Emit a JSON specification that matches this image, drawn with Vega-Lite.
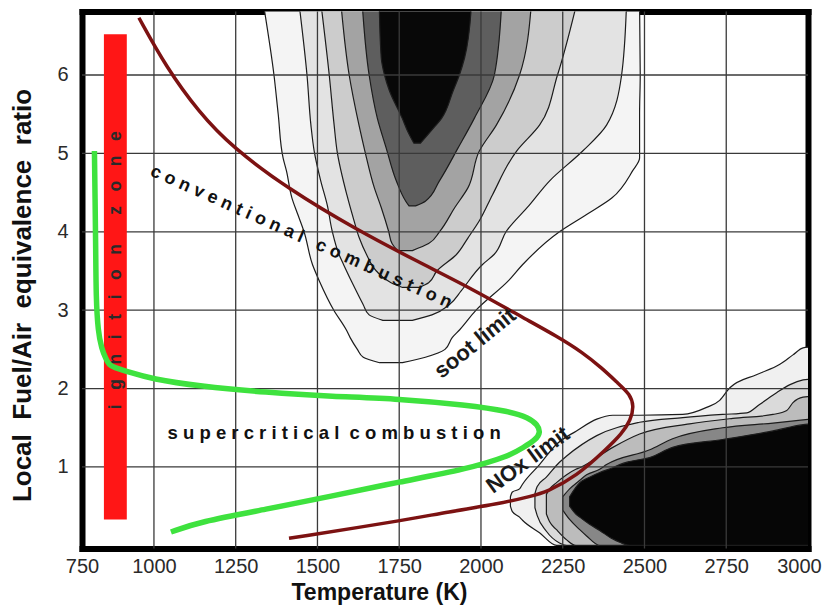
{
  "$schema": "https://vega.github.io/schema/vega-lite/v6.json",
  "width": 726,
  "height": 537,
  "autosize": {"type": "none"},
  "padding": {"left": 82, "top": 11.5, "right": 16, "bottom": 57.5},
  "background": "white",
  "config": {
    "view": {"stroke": null},
    "axis": {
      "domainColor": "#000000",
      "domainWidth": 6,
      "domainCap": "square",
      "grid": false,
      "ticks": false,
      "tickSize": 0,
      "labelFont": "Liberation Sans",
      "labelFontSize": 20,
      "labelColor": "#2a2a2a",
      "titleFont": "Liberation Sans",
      "titleFontWeight": "bold",
      "titleColor": "#111111",
      "zindex": 1
    },
    "text": {"font": "Liberation Sans"}
  },
  "resolve": {"axis": {"x": "independent", "y": "independent"}},
  "datasets": {
    "soot": [
      {"lev": "L1", "phi": 2.33, "T": 1690, "T2": 1760},
      {"lev": "L1", "phi": 2.40, "T": 1640, "T2": 1830},
      {"lev": "L1", "phi": 2.50, "T": 1622, "T2": 1890},
      {"lev": "L1", "phi": 2.65, "T": 1600, "T2": 1912},
      {"lev": "L1", "phi": 2.75, "T": 1588, "T2": 1935},
      {"lev": "L1", "phi": 3.00, "T": 1550, "T2": 1985},
      {"lev": "L1", "phi": 3.38, "T": 1505, "T2": 2085},
      {"lev": "L1", "phi": 3.58, "T": 1485, "T2": 2127},
      {"lev": "L1", "phi": 4.00, "T": 1459, "T2": 2240},
      {"lev": "L1", "phi": 4.22, "T": 1440, "T2": 2323},
      {"lev": "L1", "phi": 4.43, "T": 1422, "T2": 2400},
      {"lev": "L1", "phi": 4.78, "T": 1405, "T2": 2464},
      {"lev": "L1", "phi": 4.94, "T": 1395, "T2": 2485},
      {"lev": "L1", "phi": 5.50, "T": 1380, "T2": 2485},
      {"lev": "L1", "phi": 6.00, "T": 1367, "T2": 2487},
      {"lev": "L1", "phi": 6.90, "T": 1335, "T2": 2485},
      {"lev": "L2", "phi": 2.87, "T": 1700, "T2": 1790},
      {"lev": "L2", "phi": 2.94, "T": 1658, "T2": 1850},
      {"lev": "L2", "phi": 3.07, "T": 1640, "T2": 1903},
      {"lev": "L2", "phi": 3.25, "T": 1618, "T2": 1940},
      {"lev": "L2", "phi": 3.58, "T": 1580, "T2": 2004},
      {"lev": "L2", "phi": 3.71, "T": 1566, "T2": 2040},
      {"lev": "L2", "phi": 4.01, "T": 1545, "T2": 2078},
      {"lev": "L2", "phi": 4.34, "T": 1530, "T2": 2148},
      {"lev": "L2", "phi": 4.65, "T": 1510, "T2": 2210},
      {"lev": "L2", "phi": 5.03, "T": 1490, "T2": 2311},
      {"lev": "L2", "phi": 5.36, "T": 1480, "T2": 2384},
      {"lev": "L2", "phi": 6.00, "T": 1468, "T2": 2430},
      {"lev": "L2", "phi": 6.90, "T": 1444, "T2": 2445},
      {"lev": "L3", "phi": 3.29, "T": 1760, "T2": 1810},
      {"lev": "L3", "phi": 3.35, "T": 1725, "T2": 1840},
      {"lev": "L3", "phi": 3.50, "T": 1680, "T2": 1865},
      {"lev": "L3", "phi": 3.71, "T": 1650, "T2": 1925},
      {"lev": "L3", "phi": 3.92, "T": 1628, "T2": 1960},
      {"lev": "L3", "phi": 4.14, "T": 1612, "T2": 1995},
      {"lev": "L3", "phi": 4.47, "T": 1590, "T2": 2035},
      {"lev": "L3", "phi": 5.03, "T": 1560, "T2": 2109},
      {"lev": "L3", "phi": 5.36, "T": 1551, "T2": 2179},
      {"lev": "L3", "phi": 6.00, "T": 1536, "T2": 2234},
      {"lev": "L3", "phi": 6.90, "T": 1511, "T2": 2292},
      {"lev": "L4", "phi": 3.76, "T": 1745, "T2": 1790},
      {"lev": "L4", "phi": 3.85, "T": 1728, "T2": 1840},
      {"lev": "L4", "phi": 4.00, "T": 1718, "T2": 1873},
      {"lev": "L4", "phi": 4.31, "T": 1695, "T2": 1920},
      {"lev": "L4", "phi": 4.56, "T": 1674, "T2": 1960},
      {"lev": "L4", "phi": 5.03, "T": 1645, "T2": 1995},
      {"lev": "L4", "phi": 5.36, "T": 1627, "T2": 2047},
      {"lev": "L4", "phi": 6.00, "T": 1597, "T2": 2118},
      {"lev": "L4", "phi": 6.90, "T": 1572, "T2": 2154},
      {"lev": "L5", "phi": 4.33, "T": 1780, "T2": 1800},
      {"lev": "L5", "phi": 4.39, "T": 1770, "T2": 1830},
      {"lev": "L5", "phi": 4.65, "T": 1741, "T2": 1873},
      {"lev": "L5", "phi": 5.07, "T": 1710, "T2": 1930},
      {"lev": "L5", "phi": 5.45, "T": 1683, "T2": 1980},
      {"lev": "L5", "phi": 6.00, "T": 1658, "T2": 2041},
      {"lev": "L5", "phi": 6.90, "T": 1637, "T2": 2063},
      {"lev": "L6", "phi": 5.13, "T": 1795, "T2": 1815},
      {"lev": "L6", "phi": 5.29, "T": 1775, "T2": 1848},
      {"lev": "L6", "phi": 5.45, "T": 1759, "T2": 1880},
      {"lev": "L6", "phi": 5.80, "T": 1720, "T2": 1915},
      {"lev": "L6", "phi": 6.00, "T": 1705, "T2": 1934},
      {"lev": "L6", "phi": 6.22, "T": 1695, "T2": 1950},
      {"lev": "L6", "phi": 6.90, "T": 1689, "T2": 1971}
    ],
    "nox": [
      {"lev": "N1", "T": 2090, "phi": 0.50, "phi2": 0.62},
      {"lev": "N1", "T": 2096, "phi": 0.43, "phi2": 0.68},
      {"lev": "N1", "T": 2118, "phi": 0.36, "phi2": 0.72},
      {"lev": "N1", "T": 2127, "phi": 0.32, "phi2": 0.78},
      {"lev": "N1", "T": 2179, "phi": 0.16, "phi2": 1.03},
      {"lev": "N1", "T": 2231, "phi": 0, "phi2": 1.29},
      {"lev": "N1", "T": 2292, "phi": 0, "phi2": 1.46},
      {"lev": "N1", "T": 2354, "phi": 0, "phi2": 1.61},
      {"lev": "N1", "T": 2403, "phi": 0, "phi2": 1.66},
      {"lev": "N1", "T": 2485, "phi": 0, "phi2": 1.66},
      {"lev": "N1", "T": 2617, "phi": 0, "phi2": 1.67},
      {"lev": "N1", "T": 2690, "phi": 0, "phi2": 1.76},
      {"lev": "N1", "T": 2730, "phi": 0, "phi2": 1.85},
      {"lev": "N1", "T": 2761, "phi": 0, "phi2": 2.01},
      {"lev": "N1", "T": 2844, "phi": 0, "phi2": 2.18},
      {"lev": "N1", "T": 2914, "phi": 0, "phi2": 2.31},
      {"lev": "N1", "T": 2954, "phi": 0, "phi2": 2.43},
      {"lev": "N1", "T": 2985, "phi": 0, "phi2": 2.52},
      {"lev": "N1", "T": 3010, "phi": 0, "phi2": 2.53},
      {"lev": "N2", "T": 2165, "phi": 0.48, "phi2": 0.66},
      {"lev": "N2", "T": 2172, "phi": 0.38, "phi2": 0.75},
      {"lev": "N2", "T": 2200, "phi": 0.18, "phi2": 0.87},
      {"lev": "N2", "T": 2240, "phi": 0.03, "phi2": 1.06},
      {"lev": "N2", "T": 2262, "phi": 0, "phi2": 1.14},
      {"lev": "N2", "T": 2354, "phi": 0, "phi2": 1.40},
      {"lev": "N2", "T": 2485, "phi": 0, "phi2": 1.57},
      {"lev": "N2", "T": 2617, "phi": 0, "phi2": 1.63},
      {"lev": "N2", "T": 2739, "phi": 0, "phi2": 1.67},
      {"lev": "N2", "T": 2813, "phi": 0, "phi2": 1.69},
      {"lev": "N2", "T": 2853, "phi": 0, "phi2": 1.80},
      {"lev": "N2", "T": 2905, "phi": 0, "phi2": 1.95},
      {"lev": "N2", "T": 2945, "phi": 0, "phi2": 2.05},
      {"lev": "N2", "T": 2985, "phi": 0, "phi2": 2.11},
      {"lev": "N2", "T": 3010, "phi": 0, "phi2": 2.12},
      {"lev": "N3", "T": 2200, "phi": 0.40, "phi2": 0.65},
      {"lev": "N3", "T": 2210, "phi": 0.30, "phi2": 0.72},
      {"lev": "N3", "T": 2231, "phi": 0.20, "phi2": 0.80},
      {"lev": "N3", "T": 2262, "phi": 0.07, "phi2": 0.90},
      {"lev": "N3", "T": 2290, "phi": 0, "phi2": 0.97},
      {"lev": "N3", "T": 2302, "phi": 0, "phi2": 0.99},
      {"lev": "N3", "T": 2403, "phi": 0, "phi2": 1.25},
      {"lev": "N3", "T": 2485, "phi": 0, "phi2": 1.42},
      {"lev": "N3", "T": 2638, "phi": 0, "phi2": 1.55},
      {"lev": "N3", "T": 2770, "phi": 0, "phi2": 1.62},
      {"lev": "N3", "T": 2893, "phi": 0, "phi2": 1.67},
      {"lev": "N3", "T": 2935, "phi": 0, "phi2": 1.72},
      {"lev": "N3", "T": 2954, "phi": 0, "phi2": 1.82},
      {"lev": "N3", "T": 2985, "phi": 0, "phi2": 1.89},
      {"lev": "N3", "T": 3010, "phi": 0, "phi2": 1.90},
      {"lev": "N4", "T": 2250, "phi": 0.45, "phi2": 0.62},
      {"lev": "N4", "T": 2271, "phi": 0.33, "phi2": 0.72},
      {"lev": "N4", "T": 2302, "phi": 0.20, "phi2": 0.83},
      {"lev": "N4", "T": 2323, "phi": 0.12, "phi2": 0.90},
      {"lev": "N4", "T": 2363, "phi": 0, "phi2": 0.97},
      {"lev": "N4", "T": 2384, "phi": 0, "phi2": 1.03},
      {"lev": "N4", "T": 2516, "phi": 0, "phi2": 1.22},
      {"lev": "N4", "T": 2586, "phi": 0, "phi2": 1.36},
      {"lev": "N4", "T": 2739, "phi": 0, "phi2": 1.50},
      {"lev": "N4", "T": 2893, "phi": 0, "phi2": 1.56},
      {"lev": "N4", "T": 2985, "phi": 0, "phi2": 1.60},
      {"lev": "N4", "T": 3010, "phi": 0, "phi2": 1.61},
      {"lev": "N5", "T": 2271, "phi": 0.50, "phi2": 0.62},
      {"lev": "N5", "T": 2290, "phi": 0.40, "phi2": 0.74},
      {"lev": "N5", "T": 2302, "phi": 0.36, "phi2": 0.80},
      {"lev": "N5", "T": 2332, "phi": 0.27, "phi2": 0.87},
      {"lev": "N5", "T": 2363, "phi": 0.19, "phi2": 0.93},
      {"lev": "N5", "T": 2403, "phi": 0.08, "phi2": 0.99},
      {"lev": "N5", "T": 2424, "phi": 0.04, "phi2": 1.03},
      {"lev": "N5", "T": 2455, "phi": 0, "phi2": 1.07},
      {"lev": "N5", "T": 2516, "phi": 0, "phi2": 1.12},
      {"lev": "N5", "T": 2586, "phi": 0, "phi2": 1.25},
      {"lev": "N5", "T": 2739, "phi": 0, "phi2": 1.35},
      {"lev": "N5", "T": 2893, "phi": 0, "phi2": 1.46},
      {"lev": "N5", "T": 2985, "phi": 0, "phi2": 1.54},
      {"lev": "N5", "T": 3010, "phi": 0, "phi2": 1.55}
    ],
    "green": [
      {"seq": 1, "T": 818, "phi": 5.03},
      {"seq": 2, "T": 820, "phi": 4.42},
      {"seq": 3, "T": 822, "phi": 3.79},
      {"seq": 4, "T": 823, "phi": 3.15},
      {"seq": 5, "T": 829, "phi": 2.73},
      {"seq": 6, "T": 840, "phi": 2.51},
      {"seq": 7, "T": 853, "phi": 2.38},
      {"seq": 8, "T": 863, "phi": 2.30},
      {"seq": 9, "T": 878, "phi": 2.27},
      {"seq": 10, "T": 915, "phi": 2.22},
      {"seq": 11, "T": 995, "phi": 2.12},
      {"seq": 12, "T": 1138, "phi": 2.03},
      {"seq": 13, "T": 1343, "phi": 1.95},
      {"seq": 14, "T": 1545, "phi": 1.90},
      {"seq": 15, "T": 1750, "phi": 1.87},
      {"seq": 16, "T": 1955, "phi": 1.79},
      {"seq": 17, "T": 2087, "phi": 1.71},
      {"seq": 18, "T": 2145, "phi": 1.63},
      {"seq": 19, "T": 2173, "phi": 1.54},
      {"seq": 20, "T": 2182, "phi": 1.44},
      {"seq": 21, "T": 2168, "phi": 1.35},
      {"seq": 22, "T": 2130, "phi": 1.25},
      {"seq": 23, "T": 2087, "phi": 1.14},
      {"seq": 24, "T": 1955, "phi": 0.97},
      {"seq": 25, "T": 1750, "phi": 0.81},
      {"seq": 26, "T": 1545, "phi": 0.63},
      {"seq": 27, "T": 1343, "phi": 0.46},
      {"seq": 28, "T": 1138, "phi": 0.30},
      {"seq": 29, "T": 1052, "phi": 0.17}
    ],
    "red": [
      {"seq": 1, "T": 954, "phi": 6.73},
      {"seq": 2, "T": 1036, "phi": 6.11},
      {"seq": 3, "T": 1138, "phi": 5.52},
      {"seq": 4, "T": 1239, "phi": 5.08},
      {"seq": 5, "T": 1413, "phi": 4.54},
      {"seq": 6, "T": 1618, "phi": 4.03},
      {"seq": 7, "T": 1811, "phi": 3.61},
      {"seq": 8, "T": 1974, "phi": 3.27},
      {"seq": 9, "T": 2139, "phi": 2.88},
      {"seq": 10, "T": 2231, "phi": 2.67},
      {"seq": 11, "T": 2311, "phi": 2.46},
      {"seq": 12, "T": 2370, "phi": 2.26},
      {"seq": 13, "T": 2421, "phi": 2.06},
      {"seq": 14, "T": 2455, "phi": 1.93},
      {"seq": 15, "T": 2468, "phi": 1.78},
      {"seq": 16, "T": 2458, "phi": 1.60},
      {"seq": 17, "T": 2430, "phi": 1.42},
      {"seq": 18, "T": 2384, "phi": 1.23},
      {"seq": 19, "T": 2292, "phi": 0.88},
      {"seq": 20, "T": 2200, "phi": 0.68},
      {"seq": 21, "T": 2157, "phi": 0.63},
      {"seq": 22, "T": 2056, "phi": 0.53},
      {"seq": 23, "T": 1903, "phi": 0.43},
      {"seq": 24, "T": 1750, "phi": 0.31},
      {"seq": 25, "T": 1413, "phi": 0.09}
    ]
  },
  "layer": [
    {
      "data": {"name": "soot"},
      "mark": {"type": "area", "orient": "horizontal", "interpolate": "monotone", "clip": true, "stroke": "#1c1c1c", "strokeWidth": 1.2},
      "encoding": {
        "y": {"field": "phi", "type": "quantitative", "scale": {"domain": [-0.04, 6.81], "nice": false, "zero": false},
          "axis": {"orient": "left", "values": [1, 2, 3, 4, 5, 6], "labelPadding": 14, "title": "Local\u00a0\u00a0Fuel/Air\u00a0\u00a0equivalence\u00a0\u00a0ratio", "titleFontSize": 26, "titleAngle": 270, "titleX": -60, "titleY": 283.5, "titleAlign": "center", "titleBaseline": "middle"}},
        "x": {"field": "T", "type": "quantitative", "stack": null, "scale": {"domain": [780, 3000], "nice": false, "zero": false},
          "axis": {"orient": "bottom", "values": [780, 1000, 1250, 1500, 1750, 2000, 2250, 2500, 2750, 3000], "format": "d", "labelExpr": "datum.value < 900 ? '750' : datum.label", "labelFlush": false, "labelOverlap": false, "labelPadding": 8, "labelOffset": {"condition": {"test": "datum.value == 3000", "value": -9}, "value": 0}, "title": "Temperature (K)", "titleFontSize": 23, "titleX": 297, "titleY": 51, "titleAlign": "center", "titleBaseline": "alphabetic"}},
        "x2": {"field": "T2"},
        "color": {"field": "lev", "type": "nominal", "legend": null,
          "scale": {"domain": ["L1", "L2", "L3", "L4", "L5", "L6", "N1", "N2", "N3", "N4", "N5"], "range": ["#f4f4f4", "#e3e3e3", "#cccccc", "#a3a3a3", "#5e5e5e", "#080808", "#f0f0f0", "#dadada", "#bcbcbc", "#878787", "#060606"]}}
      }
    },
    {
      "data": {"name": "nox"},
      "mark": {"type": "area", "orient": "vertical", "interpolate": "monotone", "clip": true, "stroke": "#1c1c1c", "strokeWidth": 1.2},
      "encoding": {
        "x": {"field": "T", "type": "quantitative", "scale": {"domain": [780, 3000], "nice": false, "zero": false},
          "axis": {"orient": "top", "labels": false, "title": null, "values": [3000]}},
        "y": {"field": "phi", "type": "quantitative", "stack": null, "scale": {"domain": [-0.04, 6.81], "nice": false, "zero": false},
          "axis": {"orient": "right", "labels": false, "title": null, "values": [1]}},
        "y2": {"field": "phi2"},
        "color": {"field": "lev", "type": "nominal", "legend": null,
          "scale": {"domain": ["L1", "L2", "L3", "L4", "L5", "L6", "N1", "N2", "N3", "N4", "N5"], "range": ["#f4f4f4", "#e3e3e3", "#cccccc", "#a3a3a3", "#5e5e5e", "#080808", "#f0f0f0", "#dadada", "#bcbcbc", "#878787", "#060606"]}}
      }
    },
    {
      "data": {"values": [{"T": 1000}, {"T": 1250}, {"T": 1500}, {"T": 1750}, {"T": 2000}, {"T": 2250}, {"T": 2500}, {"T": 2750}]},
      "mark": {"type": "rule", "color": "#3a3a3a", "strokeWidth": 1.3},
      "encoding": {"x": {"field": "T", "type": "quantitative", "axis": null, "scale": {"domain": [780, 3000], "nice": false, "zero": false}}}
    },
    {
      "data": {"values": [{"phi": 1}, {"phi": 2}, {"phi": 3}, {"phi": 4}, {"phi": 5}, {"phi": 6}]},
      "mark": {"type": "rule", "color": "#3a3a3a", "strokeWidth": 1.3},
      "encoding": {"y": {"field": "phi", "type": "quantitative", "axis": null, "scale": {"domain": [-0.04, 6.81], "nice": false, "zero": false}}}
    },
    {
      "data": {"values": [{"T": 847, "T2": 917, "phi": 0.33, "phi2": 6.52}]},
      "mark": {"type": "rect", "color": "#ff1616"},
      "encoding": {
        "x": {"field": "T", "type": "quantitative", "axis": null, "scale": {"domain": [780, 3000], "nice": false, "zero": false}},
        "x2": {"field": "T2"},
        "y": {"field": "phi", "type": "quantitative", "axis": null, "scale": {"domain": [-0.04, 6.81], "nice": false, "zero": false}},
        "y2": {"field": "phi2"}
      }
    },
    {
      "data": {"values": [{"T": 884, "phi": 3.51, "label": "i\u00a0\u00a0\u00a0g\u00a0\u00a0\u00a0n\u00a0\u00a0\u00a0i\u00a0\u00a0\u00a0t\u00a0\u00a0\u00a0i\u00a0\u00a0\u00a0o\u00a0\u00a0\u00a0n\u00a0\u00a0\u00a0\u00a0\u00a0\u00a0z\u00a0\u00a0\u00a0o\u00a0\u00a0\u00a0n\u00a0\u00a0\u00a0e"}]},
      "mark": {"type": "text", "angle": 270, "fontSize": 17.5, "fontWeight": "bold", "color": "#2a2a2a", "align": "center", "baseline": "middle"},
      "encoding": {
        "x": {"field": "T", "type": "quantitative", "axis": null, "scale": {"domain": [780, 3000], "nice": false, "zero": false}},
        "y": {"field": "phi", "type": "quantitative", "axis": null, "scale": {"domain": [-0.04, 6.81], "nice": false, "zero": false}},
        "text": {"field": "label"}
      }
    },
    {
      "data": {"name": "red"},
      "mark": {"type": "line", "color": "#7c1212", "strokeWidth": 3.5, "interpolate": "basis"},
      "encoding": {
        "x": {"field": "T", "type": "quantitative", "axis": null, "scale": {"domain": [780, 3000], "nice": false, "zero": false}},
        "y": {"field": "phi", "type": "quantitative", "axis": null, "scale": {"domain": [-0.04, 6.81], "nice": false, "zero": false}},
        "order": {"field": "seq", "type": "quantitative"}
      }
    },
    {
      "data": {"name": "green"},
      "mark": {"type": "line", "color": "#3ee23e", "strokeWidth": 5.5, "interpolate": "basis"},
      "encoding": {
        "x": {"field": "T", "type": "quantitative", "axis": null, "scale": {"domain": [780, 3000], "nice": false, "zero": false}},
        "y": {"field": "phi", "type": "quantitative", "axis": null, "scale": {"domain": [-0.04, 6.81], "nice": false, "zero": false}},
        "order": {"field": "seq", "type": "quantitative"}
      }
    },
    {
      "data": {"values": [{"T": 1450, "phi": 3.93, "label": "c o n v e n t i o n a l\u00a0\u00a0\u00a0c o m b u s t i o n"}]},
      "mark": {"type": "text", "angle": 24, "fontSize": 18, "fontWeight": "bold", "color": "#111111", "align": "center", "baseline": "middle"},
      "encoding": {
        "x": {"field": "T", "type": "quantitative", "axis": null, "scale": {"domain": [780, 3000], "nice": false, "zero": false}},
        "y": {"field": "phi", "type": "quantitative", "axis": null, "scale": {"domain": [-0.04, 6.81], "nice": false, "zero": false}},
        "text": {"field": "label"}
      }
    },
    {
      "data": {"values": [{"T": 1551, "phi": 1.43, "label": "s u p e r c r i t i c a l\u00a0\u00a0c o m b u s t i o n"}]},
      "mark": {"type": "text", "angle": 0, "fontSize": 18.5, "fontWeight": "bold", "color": "#111111", "align": "center", "baseline": "middle"},
      "encoding": {
        "x": {"field": "T", "type": "quantitative", "axis": null, "scale": {"domain": [780, 3000], "nice": false, "zero": false}},
        "y": {"field": "phi", "type": "quantitative", "axis": null, "scale": {"domain": [-0.04, 6.81], "nice": false, "zero": false}},
        "text": {"field": "label"}
      }
    },
    {
      "data": {"values": [{"T": 1982, "phi": 2.58, "label": "soot limit"}]},
      "mark": {"type": "text", "angle": -39, "fontSize": 22, "fontWeight": "bold", "color": "#1a1a1a", "align": "center", "baseline": "middle"},
      "encoding": {
        "x": {"field": "T", "type": "quantitative", "axis": null, "scale": {"domain": [780, 3000], "nice": false, "zero": false}},
        "y": {"field": "phi", "type": "quantitative", "axis": null, "scale": {"domain": [-0.04, 6.81], "nice": false, "zero": false}},
        "text": {"field": "label"}
      }
    },
    {
      "data": {"values": [{"T": 2144, "phi": 1.09, "label": "NOx limit"}]},
      "mark": {"type": "text", "angle": -36, "fontSize": 22, "fontWeight": "bold", "color": "#1a1a1a", "align": "center", "baseline": "middle"},
      "encoding": {
        "x": {"field": "T", "type": "quantitative", "axis": null, "scale": {"domain": [780, 3000], "nice": false, "zero": false}},
        "y": {"field": "phi", "type": "quantitative", "axis": null, "scale": {"domain": [-0.04, 6.81], "nice": false, "zero": false}},
        "text": {"field": "label"}
      }
    }
  ]
}
